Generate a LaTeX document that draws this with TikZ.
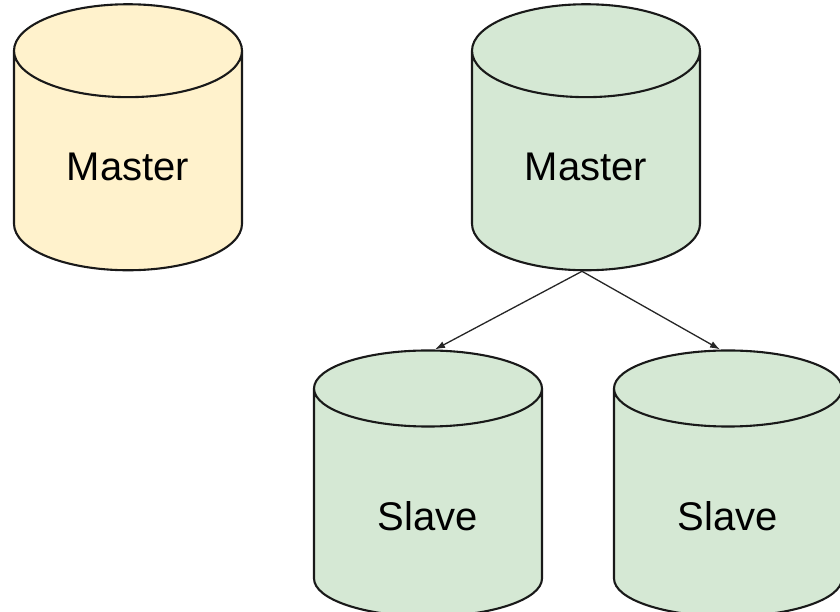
\documentclass[tikz,border=0pt]{standalone}
\usepackage{fontspec}
\setmainfont{Liberation Sans}
\usetikzlibrary{arrows.meta,shapes.geometric,positioning}

\definecolor{oldfill}{HTML}{FFF2CC}
\definecolor{replfill}{HTML}{D5E8D4}

\begin{document}
\begin{tikzpicture}[x=1pt,y=-1pt,>={Latex[length=10pt,width=7pt]},
    db/.style={cylinder, shape border rotate=90, aspect=0.76, draw=black!90, line width=2.1pt,
      minimum width=228pt, minimum height=266pt, inner sep=0pt, text depth=0pt,
      font=\fontsize{40}{48}\selectfont},
    link/.style={->, line width=1.3pt, draw=black!85}]
    \useasboundingbox (0,0) rectangle (840,611);
    % stand-alone master
    \node [db, fill=oldfill, text height=38pt] (M1) at (128,161) {Master};
    % master with its two replicas
    \node [db, fill=replfill, text height=38pt] (M2) at (586,161) {Master};
    \node [db, fill=replfill, text height=55pt] (S1) at (428,503) {Slave};
    \node [db, fill=replfill, text height=55pt] (S2) at (728,503) {Slave};
    \draw [link] ([xshift=-4pt]M2.south) -- ([xshift=7pt]S1.north);
    \draw [link] ([xshift=-4pt]M2.south) -- ([xshift=-8pt]S2.north);
\end{tikzpicture}
\end{document}
